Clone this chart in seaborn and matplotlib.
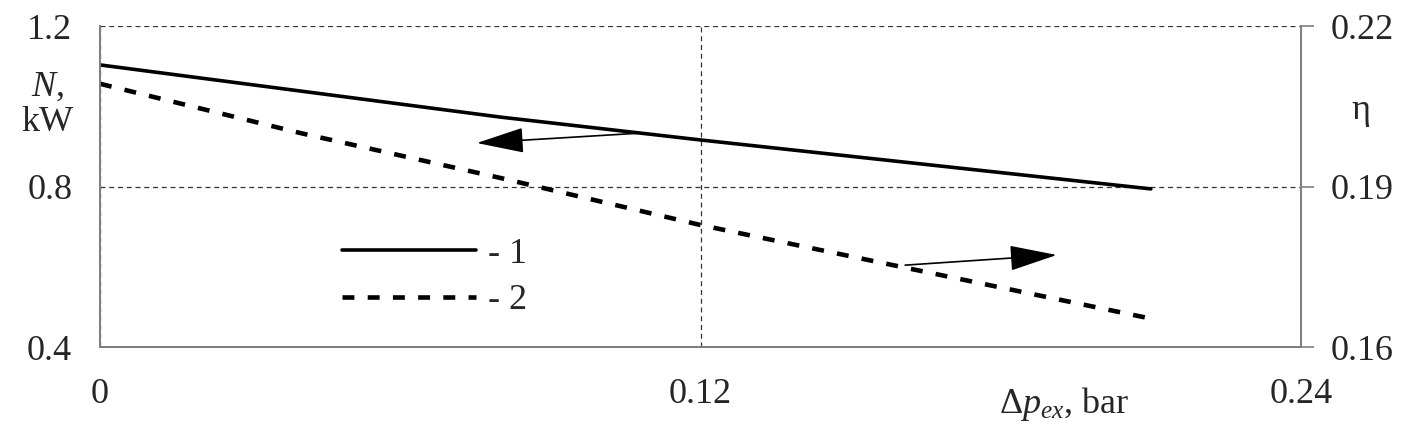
import seaborn as sns
import matplotlib.pyplot as plt
import pandas as pd

# values
dp_power = [0.0, 0.08, 0.12, 0.21]           # Δp_ex, bar
power_kw = [1.103, 0.973, 0.916, 0.794]       # curve 1, N (kW), left axis

dp_eff = [0.0, 0.04, 0.08, 0.12, 0.16, 0.209]  # Δp_ex, bar
efficiency = [0.2092, 0.2000, 0.1916, 0.1828, 0.1750, 0.1655]  # curve 2, η, right axis

x_ticks = [0.0, 0.12, 0.24]
x_tick_labels = ["0", "0.12", "0.24"]
left_ticks = [0.4, 0.8, 1.2]
left_tick_labels = ["0.4", "0.8", "1.2"]
right_ticks = [0.16, 0.19, 0.22]
right_tick_labels = ["0.16", "0.19", "0.22"]

df1 = pd.DataFrame({"dp": dp_power, "N": power_kw})
df2 = pd.DataFrame({"dp": dp_eff, "eta": efficiency})

sns.set_theme(style="white")
plt.rcParams.update({
    "font.family": ["Liberation Serif", "DejaVu Serif"],
    "mathtext.fontset": "custom",
    "mathtext.rm": "Liberation Serif",
    "mathtext.it": "Liberation Serif:italic",
})

FS = 26
spine_col = "#7f7f7f"

fig = plt.figure(figsize=(14.25, 4.34), dpi=100)
ax = fig.add_axes([100 / 1425, 1 - 347 / 434, 1201 / 1425, 321 / 434])
ax2 = ax.twinx()

sns.lineplot(data=df1, x="dp", y="N", ax=ax, color="black", lw=2.6, label="- 1")
sns.lineplot(data=df2, x="dp", y="eta", ax=ax2, color="black", lw=3.3,
             dashes=False, label="- 2")
ax2.lines[0].set_dashes((2.6, 2.9))

ax.set_xlim(0, 0.24)
ax.set_ylim(0.4, 1.2)
ax2.set_ylim(0.16, 0.22)

# dashed grid
ax.grid(True, linestyle=(0, (4, 3)), color="#333333", lw=0.9)
ax.set_axisbelow(True)

ax.set_xticks(x_ticks, x_tick_labels, fontsize=FS)
ax.set_yticks(left_ticks, left_tick_labels, fontsize=FS)
ax2.set_yticks(right_ticks, right_tick_labels, fontsize=FS)

ax.tick_params(axis="y", length=0, pad=20)
ax.tick_params(axis="x", direction="in", length=4, width=0.8, color=spine_col, pad=22)
ax2.tick_params(axis="y", direction="out", length=9, width=1.2, color=spine_col, pad=12)

for a in (ax, ax2):
    a.spines["top"].set_visible(False)
    for s in ("left", "right", "bottom"):
        a.spines[s].set_color(spine_col)
        a.spines[s].set_linewidth(1.4)

ax.set_xlabel("")
ax.set_ylabel("$N$,\nkW", rotation=0, fontsize=FS, ha="center", va="center",
              linespacing=1.1)
ax.yaxis.set_label_coords(-0.044, 0.754)
ax2.set_ylabel("η", rotation=0, fontsize=FS, ha="center", va="center")
ax2.yaxis.set_label_coords(1.05, 0.738)
ax.text(0.803, -0.206, r"$\Delta p_{ex}$, bar", transform=ax.transAxes,
        fontsize=FS, ha="center", va="baseline")

# arrows pointing to each curve's axis
arrow = dict(arrowstyle="-|>,head_length=1.5,head_width=0.4", color="black",
             lw=1.2, mutation_scale=20, shrinkA=0, shrinkB=0)
ax.annotate("", xy=(0.0753, 0.9084), xytext=(0.1079, 0.933), arrowprops=arrow)
ax2.annotate("", xy=(0.1912, 0.1772), xytext=(0.1609, 0.1753), arrowprops=arrow)

# legend
h1, l1 = ax.get_legend_handles_labels()
h2, l2 = ax2.get_legend_handles_labels()
ax2.get_legend().remove()
ax2.legend(h1 + h2, l1 + l2, loc="upper left", bbox_to_anchor=(0.2015, 0.34),
           frameon=False, fontsize=FS, handlelength=3.7, handletextpad=0.35,
           labelspacing=0.36, borderpad=0, borderaxespad=0)
ax.get_legend().remove()

plt.savefig("out.png", dpi=100)
plt.close()
